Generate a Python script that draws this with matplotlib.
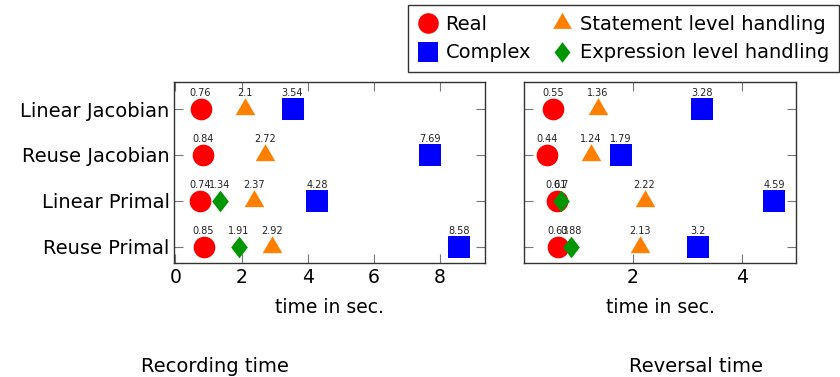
import numpy as np
import matplotlib
matplotlib.use("Agg")
import matplotlib.pyplot as plt
from matplotlib.lines import Line2D

# data (seconds), rows from bottom to top
rows = ["Reuse Primal", "Linear Primal", "Reuse Jacobian", "Linear Jacobian"]

rec_real = [0.85, 0.74, 0.84, 0.76]
rec_stmt = [2.92, 2.37, 2.72, 2.1]
rec_complex = [8.58, 4.28, 7.69, 3.54]
rec_expr = [1.91, 1.34, np.nan, np.nan]

rev_real = [0.63, 0.61, 0.44, 0.55]
rev_stmt = [2.13, 2.22, 1.24, 1.36]
rev_complex = [3.2, 4.59, 1.79, 3.28]
rev_expr = [0.88, 0.7, np.nan, np.nan]

plt.rcParams['font.family'] = ['DejaVu Sans']

# marker shapes (pgfplots-like)
tri = [(0, 1), (-0.866, -0.5), (0.866, -0.5)]
dia = [(0, 1), (0.77, 0), (0, -1), (-0.77, 0)]

styles = [
    ("Real", "o", "#ff0000", 15.6),
    ("Statement level handling", tri, "#ff8000", 16.3),
    ("Complex", "s", "#0000ff", 15.6),
    ("Expression level handling", dia, "#009600", 15.6),
]

fig = plt.figure(figsize=(8.4, 3.77), dpi=100)
ax1 = fig.add_axes([0.2077, 0.3032, 0.3696, 0.4806])
ax2 = fig.add_axes([0.6244, 0.3032, 0.3238, 0.4806])

ypos = np.arange(len(rows))


def panel(ax, series):
    for (name, mk, col, ms), vals in zip(styles, series):
        ax.plot(vals, ypos, linestyle="none", marker=mk, color=col,
                markersize=ms, markeredgewidth=0)
        for v, y in zip(vals, ypos):
            if np.isnan(v):
                continue
            ax.annotate("%g" % v, (v, y), xytext=(0, 9.4),
                        textcoords="offset points", ha="center",
                        va="baseline", fontsize=7, color="#222222")
    ax.set_ylim(-0.35, 3.6)
    ax.set_yticks(ypos)
    ax.tick_params(axis="both", direction="in", length=6.5, width=0.8,
                   color="#777777", top=True, right=True, labelsize=13.5)
    for s in ax.spines.values():
        s.set_color("#333333")
        s.set_linewidth(1.0)
    ax.set_xlabel("time in sec.", fontsize=13.5, labelpad=8)


panel(ax1, [rec_real, rec_stmt, rec_complex, rec_expr])
ax1.set_xlim(-0.03, 9.36)
ax1.set_xticks([0, 2, 4, 6, 8])
ax1.set_yticklabels(rows, fontsize=14)

panel(ax2, [rev_real, rev_stmt, rev_complex, rev_expr])
ax2.set_xlim(0.024, 5.0)
ax2.set_xticks([2, 4])
ax2.set_yticklabels([])

# legend: column 1 Real / Complex, column 2 Statement / Expression
order = [0, 2, 1, 3]
handles = [Line2D([], [], linestyle="none", marker=styles[i][1],
                  color=styles[i][2], markersize=styles[i][3] * 0.95,
                  markeredgewidth=0) for i in order]
labels = [styles[i][0] for i in order]
fig.legend(handles, labels, ncol=2, loc="upper right",
           bbox_to_anchor=(838.5 / 840, 1 - 5 / 377), fontsize=14,
           frameon=True, fancybox=False, edgecolor="black",
           handlelength=1.0, handletextpad=0.4, columnspacing=1.1,
           borderpad=0.5, labelspacing=0.5, borderaxespad=0)

fig.text(215 / 840, 5 / 377, "Recording time", ha="center", va="baseline",
         fontsize=14)
fig.text(696 / 840, 5 / 377, "Reversal time", ha="center", va="baseline",
         fontsize=14)

fig.savefig("out.png", dpi=100)
